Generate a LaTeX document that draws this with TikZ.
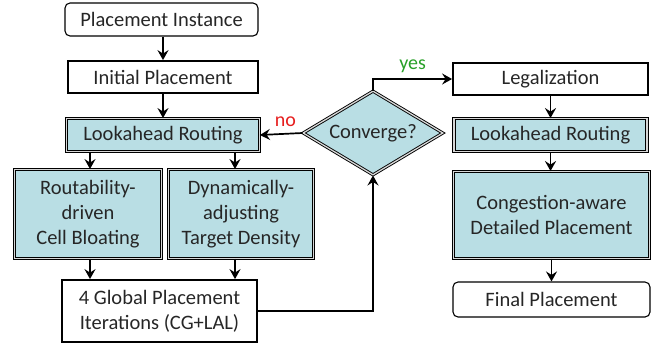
\documentclass[tikz,border=0pt]{standalone}
\usepackage{fontspec}
\setmainfont{Carlito}
\usetikzlibrary{arrows.meta,shapes.geometric}
\definecolor{boxblue}{RGB}{185,222,228}
\definecolor{gapgray}{RGB}{215,215,215}
\definecolor{nored}{RGB}{230,30,30}
\definecolor{yesgreen}{RGB}{40,160,40}
\tikzset{
  txt/.style={font=\fontsize{20.5}{25}\selectfont, align=center, text=black!85, inner sep=0pt},
  roundbox/.style={txt, draw, line width=1.1pt, rounded corners=5pt},
  plainbox/.style={txt, draw, line width=1.8pt},
  dblbox/.style={txt, draw=black, fill=boxblue, line width=0.9pt, double=gapgray, double distance=1.3pt},
  arr/.style={line width=1.7pt, -{Stealth[length=10pt,width=11pt,inset=3.5pt]}},
  lbl/.style={font=\fontsize{20}{22}\selectfont, inner sep=0pt}
}
\begin{document}
\begin{tikzpicture}[x=1pt,y=-1pt]
\useasboundingbox (0,0) rectangle (671,349);
\node[roundbox, minimum width=193pt, minimum height=33pt] (pi) at (161.5,19.5) {Placement Instance};
\node[plainbox, minimum width=190pt, minimum height=32pt] (ip) at (163,77) {Initial Placement};
\node[dblbox, minimum width=193pt, minimum height=33pt] (lr1) at (163,135) {Lookahead Routing};
\node[dblbox, minimum width=147pt, minimum height=89pt] (rc) at (88,214) {Routability-\\driven\\Cell Bloating};
\node[dblbox, minimum width=145pt, minimum height=89pt] (dt) at (241,214) {Dynamically-\\adjusting\\Target Density};
\node[plainbox, minimum width=195pt, minimum height=62pt] (gp) at (159.5,311) {4 Global Placement\\Iterations (CG+LAL)};
\node[dblbox, diamond, aspect=1.66, minimum width=140pt, minimum height=84pt, inner sep=0pt] (cv) at (373,133) {Converge?};
\node[plainbox, minimum width=195pt, minimum height=32pt] (lg) at (550.5,79) {Legalization};
\node[dblbox, minimum width=193pt, minimum height=33pt] (lr2) at (550.5,135) {Lookahead Routing};
\node[dblbox, minimum width=196pt, minimum height=87pt] (ca) at (551.5,215) {Congestion-aware\\Detailed Placement};
\node[roundbox, minimum width=197pt, minimum height=35pt] (fp) at (551.5,299.5) {Final Placement};
\draw[arr] (pi.south -| ip.north) -- (ip.north);
\draw[arr] (ip.south) -- (lr1.north);
\draw[arr] (lr1.south -| rc.north) ++(2,0) coordinate (a1) -- (a1 |- rc.north);
\draw[arr] (lr1.south -| dt.north) ++(-6,0) coordinate (a2) -- (a2 |- dt.north);
\draw[arr] (rc.south) ++(2,0) coordinate (b1) -- (b1 |- gp.north);
\draw[arr] (dt.south) ++(-6,0) coordinate (b2) -- (b2 |- gp.north);
\draw[arr] (gp.east) -| (cv.south);
\draw[arr] (cv.north) |- (lg.west) node[pos=0.75, above=5pt, lbl, text=yesgreen] {yes};
\draw[arr] (cv.west) -- (lr1.east) node[pos=0.4, above=6pt, lbl, text=nored] {no};
\draw[arr] (lg.south) -- (lr2.north);
\draw[arr] (lr2.south) -- (lr2.south |- ca.north);
\draw[arr] (ca.south) -- (ca.south |- fp.north);
\end{tikzpicture}
\end{document}
